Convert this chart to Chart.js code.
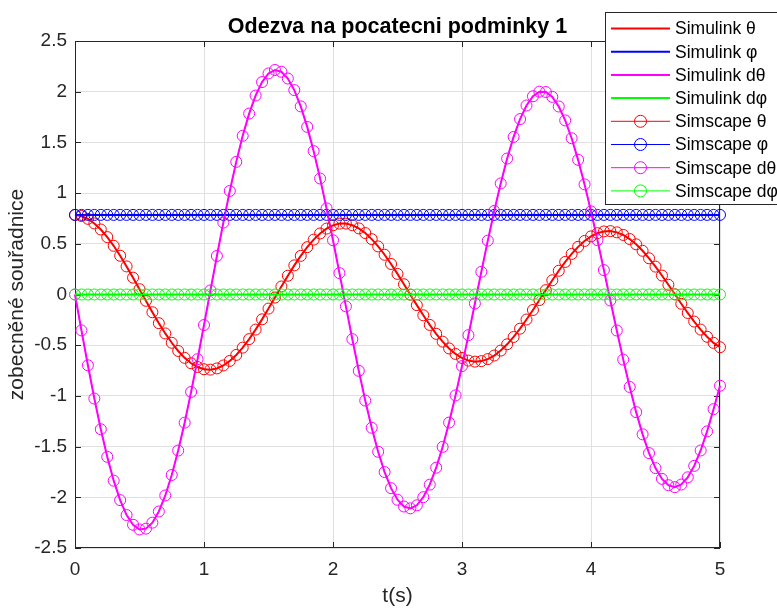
<!DOCTYPE html>
<html lang="cs">
<head>
<meta charset="UTF-8">
<title>Odezva na pocatecni podminky 1</title>
<script src="https://cdn.jsdelivr.net/npm/chart.js"></script>
<style>
    html, body { margin: 0; padding: 0; background: #fff; }
    #obal { width: 777px; height: 609px; }
</style>
</head>
<body>
<div id="obal"><canvas id="graf" width="777" height="609"></canvas></div>
<script>
// cas simulace (s), krok 0.05
const cas = [
    0, 0.05, 0.1, 0.15, 0.2, 0.25, 0.3, 0.35, 0.4, 0.45,
    0.5, 0.55, 0.6, 0.65, 0.7, 0.75, 0.8, 0.85, 0.9, 0.95,
    1, 1.05, 1.1, 1.15, 1.2, 1.25, 1.3, 1.35, 1.4, 1.45,
    1.5, 1.55, 1.6, 1.65, 1.7, 1.75, 1.8, 1.85, 1.9, 1.95,
    2, 2.05, 2.1, 2.15, 2.2, 2.25, 2.3, 2.35, 2.4, 2.45,
    2.5, 2.55, 2.6, 2.65, 2.7, 2.75, 2.8, 2.85, 2.9, 2.95,
    3, 3.05, 3.1, 3.15, 3.2, 3.25, 3.3, 3.35, 3.4, 3.45,
    3.5, 3.55, 3.6, 3.65, 3.7, 3.75, 3.8, 3.85, 3.9, 3.95,
    4, 4.05, 4.1, 4.15, 4.2, 4.25, 4.3, 4.35, 4.4, 4.45,
    4.5, 4.55, 4.6, 4.65, 4.7, 4.75, 4.8, 4.85, 4.9, 4.95,
    5
];

const theta = [
    0.785, 0.774, 0.746, 0.701, 0.641, 0.566, 0.480, 0.382, 0.277, 0.166,
    0.052, -0.062, -0.175, -0.283, -0.384, -0.476, -0.557, -0.625, -0.678, -0.715,
    -0.737, -0.741, -0.729, -0.700, -0.655, -0.596, -0.524, -0.440, -0.346, -0.245,
    -0.139, -0.030, 0.079, 0.185, 0.287, 0.381, 0.467, 0.541, 0.602, 0.650,
    0.682, 0.699, 0.699, 0.683, 0.652, 0.606, 0.546, 0.474, 0.392, 0.301,
    0.203, 0.101, -0.002, -0.105, -0.205, -0.300, -0.388, -0.465, -0.532, -0.586,
    -0.626, -0.652, -0.662, -0.657, -0.637, -0.602, -0.553, -0.491, -0.419, -0.337,
    -0.247, -0.153, -0.055, 0.043, 0.140, 0.234, 0.321, 0.400, 0.470, 0.528,
    0.573, 0.605, 0.622, 0.625, 0.613, 0.587, 0.547, 0.495, 0.431, 0.357,
    0.275, 0.187, 0.096, 0.002, -0.091, -0.182, -0.267, -0.346, -0.417, -0.477,
    -0.520
];

const phi = [
    0.785, 0.785, 0.785, 0.785, 0.785, 0.785, 0.785, 0.785, 0.785, 0.785,
    0.785, 0.785, 0.785, 0.785, 0.785, 0.785, 0.785, 0.785, 0.785, 0.785,
    0.785, 0.785, 0.785, 0.785, 0.785, 0.785, 0.785, 0.785, 0.785, 0.785,
    0.785, 0.785, 0.785, 0.785, 0.785, 0.785, 0.785, 0.785, 0.785, 0.785,
    0.785, 0.785, 0.785, 0.785, 0.785, 0.785, 0.785, 0.785, 0.785, 0.785,
    0.785, 0.785, 0.785, 0.785, 0.785, 0.785, 0.785, 0.785, 0.785, 0.785,
    0.785, 0.785, 0.785, 0.785, 0.785, 0.785, 0.785, 0.785, 0.785, 0.785,
    0.785, 0.785, 0.785, 0.785, 0.785, 0.785, 0.785, 0.785, 0.785, 0.785,
    0.785, 0.785, 0.785, 0.785, 0.785, 0.785, 0.785, 0.785, 0.785, 0.785,
    0.785, 0.785, 0.785, 0.785, 0.785, 0.785, 0.785, 0.785, 0.785, 0.785,
    0.785
];

const dtheta = [
    0, -0.354, -0.698, -1.026, -1.329, -1.601, -1.836, -2.028, -2.175, -2.271,
    -2.317, -2.309, -2.250, -2.140, -1.982, -1.780, -1.539, -1.264, -0.961, -0.638,
    -0.301, 0.040, 0.380, 0.709, 1.021, 1.308, 1.565, 1.784, 1.962, 2.095,
    2.180, 2.214, 2.197, 2.130, 2.016, 1.855, 1.653, 1.414, 1.144, 0.849,
    0.535, 0.211, -0.117, -0.441, -0.753, -1.046, -1.314, -1.551, -1.751, -1.910,
    -2.024, -2.091, -2.109, -2.079, -1.999, -1.875, -1.708, -1.503, -1.263, -0.995,
    -0.706, -0.401, -0.089, 0.224, 0.531, 0.824, 1.095, 1.341, 1.554, 1.730,
    1.864, 1.955, 2.000, 1.997, 1.949, 1.854, 1.717, 1.541, 1.328, 1.086,
    0.820, 0.536, 0.241, -0.059, -0.355, -0.642, -0.912, -1.160, -1.379, -1.564,
    -1.712, -1.818, -1.881, -1.900, -1.874, -1.803, -1.690, -1.538, -1.350, -1.131,
    -0.900
];

const dphi = [
    0, 0, 0, 0, 0, 0, 0, 0, 0, 0,
    0, 0, 0, 0, 0, 0, 0, 0, 0, 0,
    0, 0, 0, 0, 0, 0, 0, 0, 0, 0,
    0, 0, 0, 0, 0, 0, 0, 0, 0, 0,
    0, 0, 0, 0, 0, 0, 0, 0, 0, 0,
    0, 0, 0, 0, 0, 0, 0, 0, 0, 0,
    0, 0, 0, 0, 0, 0, 0, 0, 0, 0,
    0, 0, 0, 0, 0, 0, 0, 0, 0, 0,
    0, 0, 0, 0, 0, 0, 0, 0, 0, 0,
    0, 0, 0, 0, 0, 0, 0, 0, 0, 0,
    0
];

const xTicks = [0, 1, 2, 3, 4, 5];
const yTicks = [-2.5, -2, -1.5, -1, -0.5, 0, 0.5, 1, 1.5, 2, 2.5];

const nazvy = ['Simulink θ', 'Simulink φ', 'Simulink dθ', 'Simulink dφ',
               'Simscape θ', 'Simscape φ', 'Simscape dθ', 'Simscape dφ'];
const barvy = ['#ff0000', '#0000ff', '#ff00ff', '#00ff00'];
const rady = [theta, phi, dtheta, dphi];

const pismo = "'Liberation Sans', Arial, Helvetica, sans-serif";
const sedaOsa = '#262626';

function body(rada) {
    return cas.map((t, i) => ({ x: t, y: rada[i] }));
}

let datasets = [];
// Simulink - plne cary
rady.forEach((r, i) => {
    datasets.push({
        label: nazvy[i],
        data: body(r),
        borderColor: barvy[i],
        borderWidth: 2,
        pointRadius: 0,
        fill: false
    });
});
// Simscape - tenka cara s krouzky
rady.forEach((r, i) => {
    datasets.push({
        label: nazvy[i + 4],
        data: body(r),
        borderColor: barvy[i],
        borderWidth: 1,
        pointStyle: 'circle',
        pointRadius: 5.5,
        pointBorderWidth: 1,
        pointBorderColor: barvy[i],
        pointBackgroundColor: 'rgba(0,0,0,0)',
        fill: false
    });
});
// poradi kresleni jako v MATLABu - posledni navrchu
datasets.forEach((d, i) => { d.order = datasets.length - 1 - i; d.clip = 8; });

// ramecek os a ticky dovnitr
const ramecek = {
    id: 'ramecek',
    beforeDatasetsDraw(chart) {
        const { ctx, chartArea: a, scales } = chart;
        ctx.save();
        ctx.strokeStyle = sedaOsa;
        ctx.lineWidth = 1;
        ctx.strokeRect(a.left + 0.5, a.top + 0.5, a.right - a.left - 1, a.bottom - a.top - 1);
        ctx.beginPath();
        xTicks.forEach(v => {
            const x = Math.round(scales.x.getPixelForValue(v)) + 0.5;
            ctx.moveTo(x, a.bottom); ctx.lineTo(x, a.bottom - 6);
            ctx.moveTo(x, a.top); ctx.lineTo(x, a.top + 6);
        });
        yTicks.forEach(v => {
            const y = Math.round(scales.y.getPixelForValue(v)) + 0.5;
            ctx.moveTo(a.left, y); ctx.lineTo(a.left + 6, y);
            ctx.moveTo(a.right, y); ctx.lineTo(a.right - 6, y);
        });
        ctx.stroke();
        ctx.restore();
    }
};

// legenda v pravem hornim rohu (presahuje okraj jako v originale)
const legenda = {
    id: 'legenda',
    afterDraw(chart) {
        const ctx = chart.ctx;
        const left = 605, top = 12, krok = 23.2;
        ctx.save();
        ctx.fillStyle = '#ffffff';
        ctx.fillRect(left, top, 200, 192);
        ctx.strokeStyle = sedaOsa;
        ctx.lineWidth = 1;
        ctx.strokeRect(left + 0.5, top + 0.5, 200, 192);
        ctx.font = '17.5px ' + pismo;
        ctx.textBaseline = 'middle';
        chart.data.datasets.forEach((d, i) => {
            const y = top + 16.5 + i * krok;
            ctx.strokeStyle = d.borderColor;
            ctx.lineWidth = d.borderWidth;
            ctx.beginPath();
            ctx.moveTo(left + 6, y);
            ctx.lineTo(left + 65, y);
            ctx.stroke();
            if (d.pointRadius > 0) {
                ctx.lineWidth = 1;
                ctx.beginPath();
                ctx.arc(left + 35.5, y, 6, 0, Math.PI * 2);
                ctx.stroke();
            }
            ctx.fillStyle = '#000000';
            ctx.fillText(d.label, left + 70, y + 1);
        });
        ctx.restore();
    }
};

new Chart(document.getElementById('graf'), {
    type: 'line',
    data: { datasets: datasets },
    options: {
        responsive: false,
        animation: false,
        devicePixelRatio: 1,
        events: [],
        layout: { padding: { left: 0, right: 57, top: 0, bottom: 0 } },
        plugins: {
            legend: { display: false },
            tooltip: { enabled: false },
            title: {
                display: true,
                fullSize: false,
                text: 'Odezva na pocatecni podminky 1',
                color: '#000000',
                font: { family: pismo, size: 21.5, weight: 'bold', lineHeight: 1.2 },
                padding: { top: 14, bottom: 1.2 }
            }
        },
        scales: {
            x: {
                type: 'linear',
                min: 0,
                max: 5,
                afterFit(s) { s.height = 61; },
                afterBuildTicks(s) { s.ticks = xTicks.map(v => ({ value: v })); },
                grid: { color: '#e0e0e0', drawTicks: false },
                border: { display: false },
                ticks: {
                    color: sedaOsa,
                    padding: 10,
                    maxRotation: 0,
                    font: { family: pismo, size: 19 },
                    callback: v => String(v)
                },
                title: {
                    display: true,
                    text: 't(s)',
                    color: sedaOsa,
                    font: { family: pismo, size: 21, lineHeight: 1.2 },
                    padding: { top: 0, bottom: 0 }
                }
            },
            y: {
                type: 'linear',
                min: -2.5,
                max: 2.5,
                afterFit(s) { s.width = 75; },
                afterBuildTicks(s) { s.ticks = yTicks.map(v => ({ value: v })); },
                grid: { color: '#e0e0e0', drawTicks: false },
                border: { display: false },
                ticks: {
                    color: sedaOsa,
                    padding: 8,
                    font: { family: pismo, size: 19 },
                    callback: v => String(v)
                },
                title: {
                    display: true,
                    text: 'zobecněné souřadnice',
                    color: sedaOsa,
                    font: { family: pismo, size: 21, lineHeight: 1.2 },
                    padding: { top: 5, bottom: 0 }
                }
            }
        }
    },
    plugins: [ramecek, legenda]
});
</script>
</body>
</html>
